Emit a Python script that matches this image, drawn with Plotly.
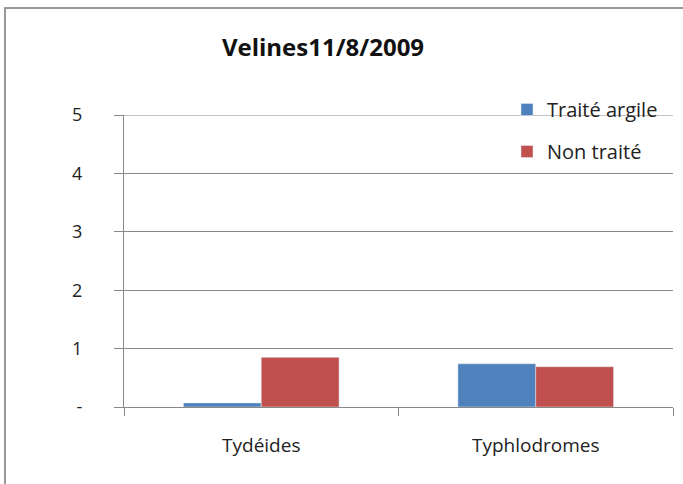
import plotly.graph_objects as go

categories = ["Tydéides", "Typhlodromes"]
traite_argile = [0.07, 0.74]
non_traite = [0.85, 0.69]
y_tickvals = [0, 1, 2, 3, 4, 5]
y_ticktext = ["-", "1", "2", "3", "4", "5"]
y_max = 5

W, H = 683, 484
L, R, T, B = 124, 10, 115, 77
pw, ph = W - L - R, H - T - B

font = "Open Sans"

fig = go.Figure()
fig.add_trace(go.Bar(name="Traité argile", x=categories, y=traite_argile,
                     marker_color="#4F81BD", legendgroup="a"))
fig.add_trace(go.Bar(name="Non traité", x=categories, y=non_traite,
                     marker_color="#C0504D", legendgroup="b"))

fig.update_layout(
    width=W, height=H,
    margin=dict(l=L, r=R, t=T, b=B),
    paper_bgcolor="white", plot_bgcolor="white",
    barmode="group", bargap=0.433, bargroupgap=0,
    font=dict(family=font, color="#222222"),
    title=dict(text="<b>Velines11/8/2009</b>", x=323 / W, xanchor="center",
               y=1 - 48 / H, yanchor="middle",
               font=dict(size=24, family=font, color="#111111")),
    legend=dict(x=(507 - L) / pw, xanchor="left", y=(407 - 90) / ph, yanchor="top",
                bgcolor="rgba(0,0,0,0)", font=dict(size=20, family=font, color="#222222"),
                traceorder="grouped", tracegroupgap=13, itemwidth=30),
    xaxis=dict(showline=True, linecolor="#888888", linewidth=1,
               ticks="outside", tickson="boundaries", ticklen=8, tickcolor="#888888",
               ticklabelstandoff=21,
               tickfont=dict(size=19, family=font, color="#222222"),
               showgrid=False),
    yaxis=dict(range=[0, y_max], tickvals=y_tickvals, ticktext=y_ticktext,
               showline=True, linecolor="#888888", linewidth=1,
               ticks="outside", ticklen=9, tickcolor="#888888",
               gridcolor="#888888", gridwidth=1,
               ticklabelstandoff=28,
               tickfont=dict(size=18, family=font, color="#222222"),
               zeroline=False),
    shapes=[dict(type="rect", xref="paper", yref="paper",
                 x0=(5 - L) / pw, x1=(700 - L) / pw,
                 y0=(407 - 500) / ph, y1=(407 - 8) / ph,
                 line=dict(color="#999999", width=2), layer="below"),
            dict(type="line", xref="paper", yref="y", x0=0, x1=1, y0=y_max, y1=y_max,
                 line=dict(color="#888888", width=1), layer="below")],
)

fig.write_html("out.html", config={"displayModeBar": False},
               post_script="document.body.style.margin='0';")
